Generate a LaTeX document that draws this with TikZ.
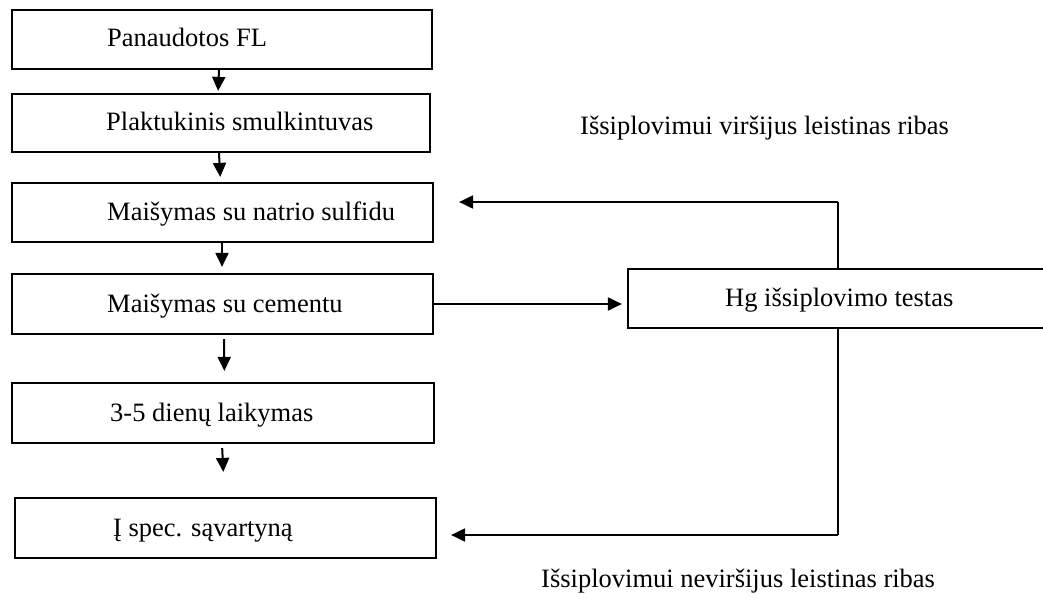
\documentclass[tikz,border=0pt]{standalone}
\usepackage{fontspec}
\setmainfont{Liberation Serif}
\usetikzlibrary{arrows.meta}
\begin{document}
\begin{tikzpicture}[x=1pt,y=-1pt,
  box/.style={draw, line width=2.2pt, rectangle, inner sep=0pt, minimum width=421pt, minimum height=59pt},
  lbl/.style={anchor=base west, inner sep=0pt, font=\fontsize{26.5}{30}\selectfont},
  arr/.style={line width=2pt, -{Triangle[length=14pt,width=13pt]}},
  thinline/.style={line width=1.2pt}]
\useasboundingbox (0,0) rectangle (1043,599);
% boxes
\node[box, minimum width=420pt] (b1) at (222,39.5) {};
\node[box, minimum width=418pt, minimum height=58pt] (b2) at (221,123) {};
\node[box] (b3) at (222.5,212.5) {};
\node[box, minimum height=60pt] (b4) at (222.5,304) {};
\node[box, minimum width=422pt, minimum height=60pt] (b5) at (223,413) {};
\node[box, minimum height=60pt] (b6) at (225.5,528) {};
\node[box, minimum width=420pt] (hg) at (838,298.5) {};
% texts
\node[lbl] (t1) at (107,47) {Panaudotos FL};
\node[lbl] (t2) at (106,131) {Plaktukinis smulkintuvas};
\node[lbl] (t3) at (107,220) {Maišymas su natrio sulfidu};
\node[lbl] (t4) at (107,312) {Maišymas su cementu};
\node[lbl] (t5) at (110,421) {3-5 dienų laikymas};
\node[lbl] (t6) at (113,536) {Į spec. sąvartyną};
\node[lbl] (th) at (725,306) {Hg išsiplovimo testas};
\node[lbl] (la) at (580,134) {Išsiplovimui viršijus leistinas ribas};
\node[lbl] (lb) at (541,587) {Išsiplovimui neviršijus leistinas ribas};
% vertical arrows
\draw[arr, shorten >=2pt] ([xshift=-3pt]b1.south) -- ([xshift=-3pt]b2.north);
\draw[arr, shorten >=5pt] ([xshift=-2pt]b2.south) -- ([xshift=-2pt]b3.north);
\draw[arr, shorten >=6pt] ([xshift=-0.5pt]b3.south) -- ([xshift=-0.5pt]b4.north);
\draw[arr, shorten <=4pt, shorten >=11pt] ([xshift=1.5pt]b4.south) -- ([xshift=1.5pt]b5.north);
\draw[arr, shorten <=4pt, shorten >=25pt] ([xshift=-1pt]b5.south) -- ([xshift=-1pt]b6.north);
% to test
\draw[arr, shorten >=5pt] (b4.east) -- (b4.east -| hg.west);
% feedback
\coordinate (up) at (838,202);
\coordinate (dn) at (838,535);
\draw[thinline] (hg.north) -- (up);
\draw[arr, shorten >=25pt] (up) -- (up -| b3.east);
\draw[thinline] (hg.south) -- (dn);
\draw[arr, shorten >=14pt] (dn) -- (dn -| b6.east);
\end{tikzpicture}
\end{document}
